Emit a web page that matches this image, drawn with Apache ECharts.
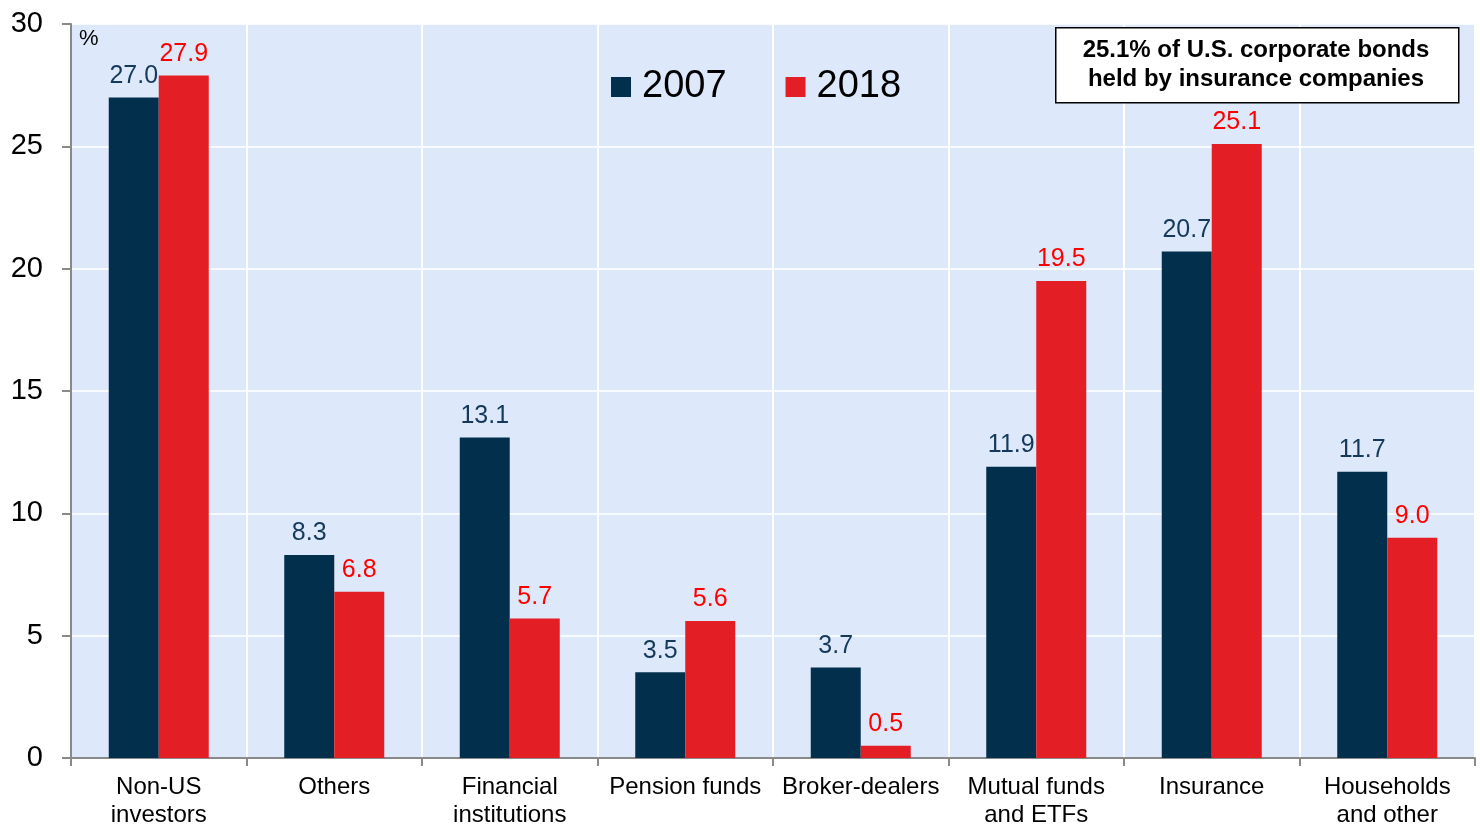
<!DOCTYPE html>
<html>
<head>
<meta charset="utf-8">
<script src="https://cdn.jsdelivr.net/npm/echarts@6/dist/echarts.min.js"></script>
<style>
  html, body { margin: 0; padding: 0; background: #fff; }
  #chart { width: 1480px; height: 829px; }
</style>
</head>
<body>
<div id="chart"></div>
<script>
const chart = echarts.init(document.getElementById('chart'))

// holders of U.S. corporate bonds, % share
const categories = [
  'Non-US\ninvestors',
  'Others',
  'Financial\ninstitutions',
  'Pension funds',
  'Broker-dealers',
  'Mutual funds\nand ETFs',
  'Insurance',
  'Households\nand other',
]
const values2007 = [27.0, 8.3, 13.1, 3.5, 3.7, 11.9, 20.7, 11.7]
const values2018 = [27.9, 6.8, 5.7, 5.6, 0.5, 19.5, 25.1, 9.0]
const yTicks = { min: 0, max: 30, interval: 5 }

const fontFamily = 'Liberation Sans, Arial, sans-serif'
const navy = '#02304c'
const red = '#e31e24'

const option = {
  animation: false,
  textStyle: { fontFamily },
  grid: {
    left: 71,
    right: 5,
    top: 24,
    bottom: 68,
    show: true,
    backgroundColor: '#dde9fa',
    borderWidth: 0,
  },
  legend: {
    left: 611,
    top: 68,
    padding: 0,
    itemWidth: 20,
    itemHeight: 20,
    itemGap: 59,
    icon: 'rect',
    textStyle: { fontSize: 38, color: '#000', fontFamily, padding: [0, 0, 0, 6] },
    data: ['2007', '2018'],
  },
  xAxis: {
    type: 'category',
    data: categories,
    axisLine: { lineStyle: { color: '#898989', width: 2 } },
    axisTick: { show: true, length: 8, lineStyle: { color: '#898989', width: 2 } },
    axisLabel: {
      color: '#000',
      fontSize: 24,
      lineHeight: 28,
      margin: 15,
      interval: 0,
    },
    splitLine: { show: true, lineStyle: { color: '#ffffff', width: 2 } },
  },
  yAxis: {
    type: 'value',
    min: yTicks.min,
    max: yTicks.max,
    interval: yTicks.interval,
    axisLine: { show: true, lineStyle: { color: '#898989', width: 2 } },
    axisTick: { show: true, length: 9, lineStyle: { color: '#898989', width: 2 } },
    axisLabel: { color: '#000', fontSize: 29, margin: 28 },
    splitLine: { show: true, lineStyle: { color: '#ffffff', width: 1.5 } },
  },
  series: [
    {
      name: '2007',
      type: 'bar',
      data: values2007,
      barWidth: 50,
      barGap: '0%',
      itemStyle: { color: navy },
      label: {
        show: true,
        position: 'top',
        distance: 9,
        fontSize: 25,
        color: '#15395a',
        formatter: (p) => p.value.toFixed(1),
      },
    },
    {
      name: '2018',
      type: 'bar',
      data: values2018,
      barWidth: 50,
      barGap: '0%',
      itemStyle: { color: red },
      label: {
        show: true,
        position: 'top',
        distance: 9,
        fontSize: 25,
        color: '#ff0000',
        formatter: (p) => p.value.toFixed(1),
      },
    },
  ],
  graphic: [
    {
      type: 'text',
      left: 79,
      top: 28,
      style: { text: '%', fontSize: 22, fill: '#000', fontFamily },
    },
    {
      type: 'rect',
      left: 1055,
      top: 27,
      shape: { width: 403, height: 75 },
      style: { fill: '#fff', stroke: '#000', lineWidth: 1.5 },
      z: 10,
    },
    {
      type: 'text',
      x: 1256,
      y: 65,
      z: 11,
      style: {
        text: '25.1% of U.S. corporate bonds\nheld by insurance companies',
        fontSize: 24,
        fontWeight: 'bold',
        lineHeight: 29,
        fill: '#000',
        fontFamily,
        align: 'center',
        verticalAlign: 'middle',
      },
    },
  ],
}

chart.setOption(option)
</script>
</body>
</html>
